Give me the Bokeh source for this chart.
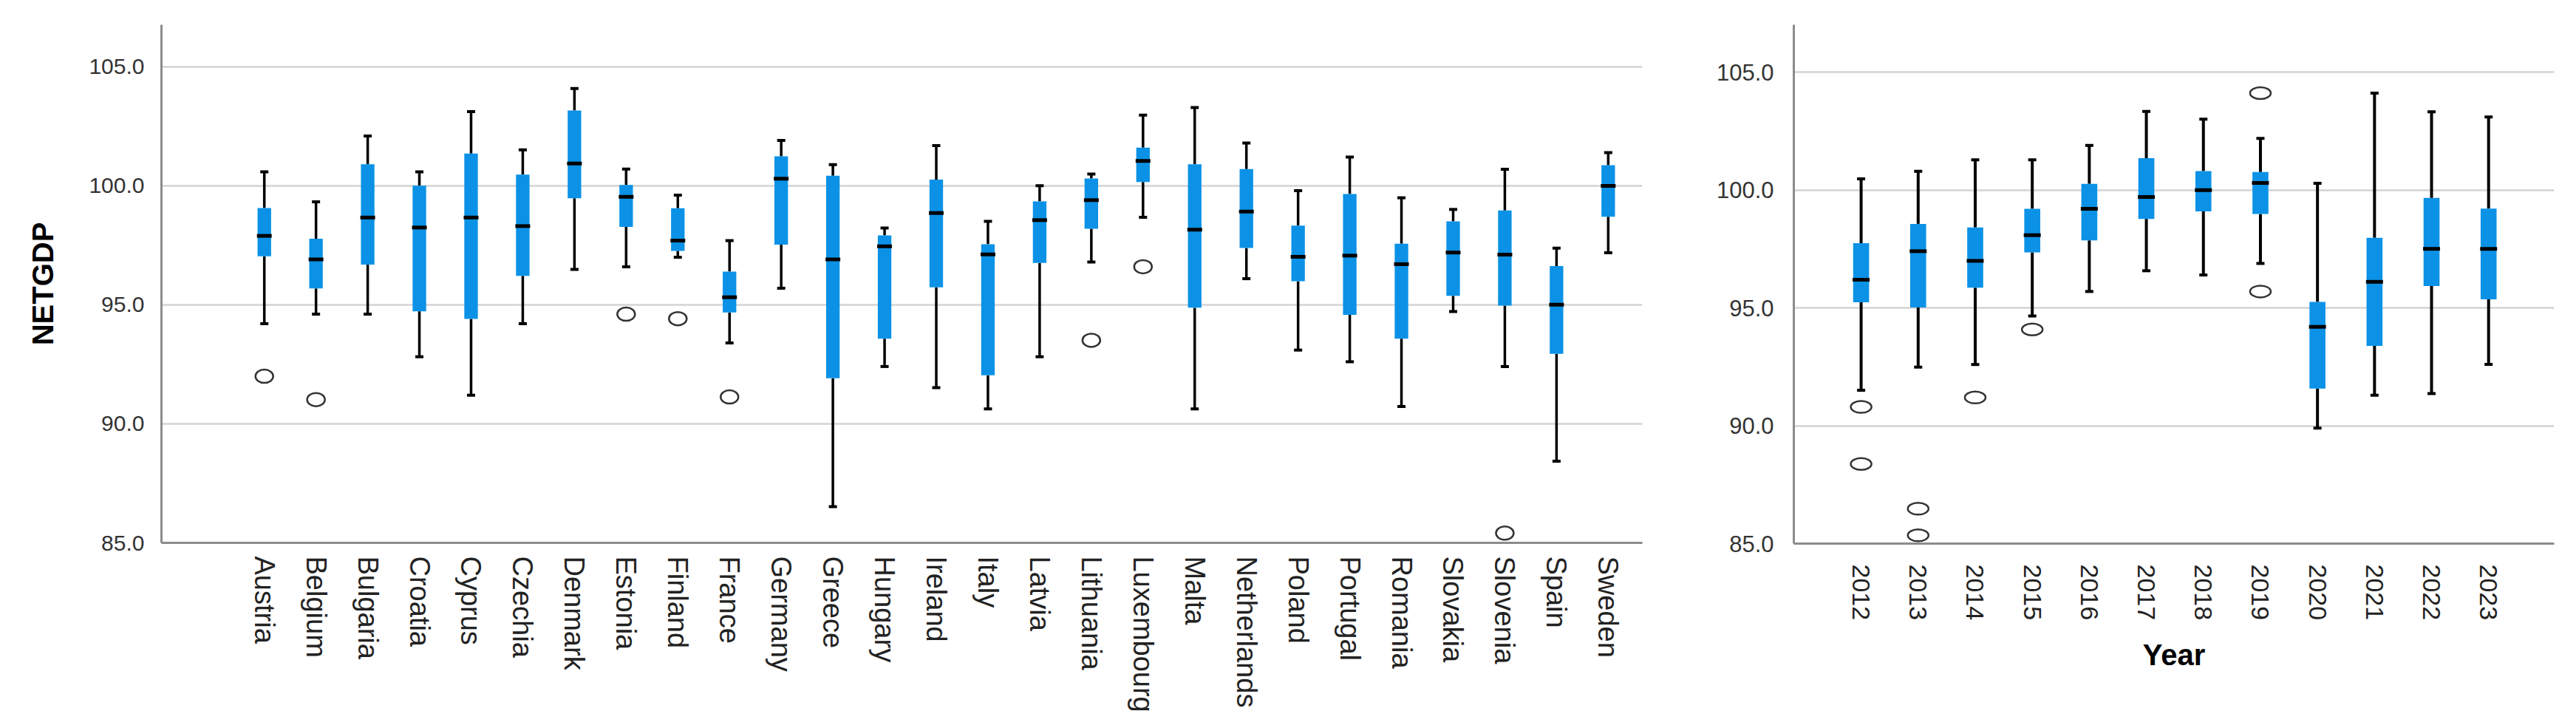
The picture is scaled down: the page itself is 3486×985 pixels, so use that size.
import math
from bokeh.plotting import figure
from bokeh.models import Range1d, FixedTicker, PrintfTickFormatter, ColumnDataSource
from bokeh.layouts import row
from bokeh.embed import file_html
from bokeh.resources import INLINE

# ---------------- data: by country ----------------
countries = ["Austria", "Belgium", "Bulgaria", "Croatia", "Cyprus", "Czechia", "Denmark",
             "Estonia", "Finland", "France", "Germany", "Greece", "Hungary", "Ireland",
             "Italy", "Latvia", "Lithuania", "Luxembourg", "Malta", "Netherlands", "Poland",
             "Portugal", "Romania", "Slovakia", "Slovenia", "Spain", "Sweden"]
c_low = [94.21, 94.61, 94.61, 92.82, 91.20, 94.21, 96.49, 96.60, 97.00, 93.40, 95.70, 86.52,
         92.41, 91.52, 90.63, 92.82, 96.80, 98.68, 90.63, 96.10, 93.10, 92.61, 90.73, 94.72,
         92.41, 88.43, 97.19]
c_q1 = [97.04, 95.69, 96.69, 94.73, 94.41, 96.22, 99.48, 98.28, 97.27, 94.68, 97.53, 91.92,
        93.58, 95.74, 92.04, 96.76, 98.20, 100.16, 94.88, 97.39, 95.99, 94.58, 93.58, 95.38,
        94.97, 92.94, 98.70]
c_med = [97.90, 96.91, 98.67, 98.25, 98.67, 98.31, 100.94, 99.54, 97.70, 95.32, 100.30, 96.91,
         97.46, 98.86, 97.12, 98.56, 99.40, 101.05, 98.16, 98.92, 97.02, 97.07, 96.71, 97.20,
         97.11, 95.01, 100.00]
c_q3 = [99.07, 97.78, 100.91, 100.01, 101.36, 100.47, 103.17, 100.04, 99.06, 96.40, 101.24,
        100.43, 97.92, 100.26, 97.55, 99.35, 100.31, 101.61, 100.91, 100.71, 98.33, 99.66,
        97.57, 98.51, 98.97, 96.63, 100.87]
c_high = [100.59, 99.33, 102.10, 100.59, 103.12, 101.51, 104.09, 100.71, 99.61, 97.70, 101.91,
          100.89, 98.23, 101.69, 98.51, 100.01, 100.50, 102.97, 103.29, 101.80, 99.80, 101.21,
          99.50, 99.01, 100.70, 97.38, 101.40]
c_out_country = ["Austria", "Belgium", "Estonia", "Finland", "France", "Lithuania",
                 "Luxembourg", "Slovenia"]
c_out_value = [92.00, 91.02, 94.61, 94.42, 91.13, 93.51, 96.60, 85.41]

# ---------------- data: by year ----------------
years = [2012, 2013, 2014, 2015, 2016, 2017, 2018, 2019, 2020, 2021, 2022, 2023]
y_low = [91.51, 92.49, 92.60, 94.66, 95.70, 96.58, 96.40, 96.89, 89.90, 91.30, 91.37, 92.61]
y_q1 = [95.24, 95.02, 95.86, 97.36, 97.87, 98.78, 99.10, 98.99, 91.58, 93.39, 95.93, 95.37]
y_med = [96.20, 97.41, 97.00, 98.09, 99.21, 99.71, 100.00, 100.31, 94.20, 96.11, 97.51, 97.51]
y_q3 = [97.75, 98.57, 98.42, 99.21, 100.27, 101.36, 100.81, 100.77, 95.26, 97.98, 99.67, 99.22]
y_high = [100.48, 100.80, 101.29, 101.29, 101.90, 103.34, 103.01, 102.20, 100.29, 104.12,
          103.33, 103.11]
y_out_year = [2012, 2012, 2013, 2013, 2014, 2015, 2019, 2019]
y_out_value = [90.80, 88.38, 86.48, 85.35, 91.20, 94.09, 104.12, 95.70]

y_ticks = [85, 90, 95, 100, 105]

BLUE = "#0B92E6"
FONT = "Liberation Sans"
GRID = "#d4d4d4"
AXIS = "#8c8c8c"


def style_common(p, tick_font_size, tick_standoff):
    p.outline_line_color = None
    p.background_fill_color = "white"
    p.border_fill_color = "white"
    p.xgrid.visible = False
    p.ygrid.ticker = FixedTicker(ticks=y_ticks)
    p.ygrid.grid_line_color = GRID
    p.ygrid.grid_line_width = 2.5
    for ax in (p.xaxis, p.yaxis):
        ax.axis_line_color = AXIS
        ax.axis_line_width = 3
        ax.major_tick_line_color = None
        ax.minor_tick_line_color = None
        ax.major_label_text_font = FONT
        ax.axis_label_text_font = FONT
    p.yaxis.ticker = FixedTicker(ticks=y_ticks)
    p.yaxis.formatter = PrintfTickFormatter(format="%.1f")
    p.yaxis.major_label_text_font_size = tick_font_size
    p.yaxis.major_label_text_color = "#333333"
    p.yaxis.major_label_standoff = tick_standoff


def draw_boxes(p, x, low, q1, med, q3, high, box_w, med_size, cap_size, wl):
    src = ColumnDataSource(dict(x=x, low=low, q1=q1, med=med, q3=q3, high=high))
    p.segment(x0="x", y0="low", x1="x", y1="q1", source=src, line_color="black", line_width=wl)
    p.segment(x0="x", y0="q3", x1="x", y1="high", source=src, line_color="black", line_width=wl)
    p.scatter(x="x", y="low", source=src, marker="dash", size=cap_size,
              line_color="black", line_width=4)
    p.scatter(x="x", y="high", source=src, marker="dash", size=cap_size,
              line_color="black", line_width=4)
    p.vbar(x="x", width=box_w, bottom="q1", top="q3", source=src,
           fill_color=BLUE, line_color=None)
    p.scatter(x="x", y="med", source=src, marker="dash", size=med_size,
              line_color="black", line_width=5)


# ---------------- left chart ----------------
cx = list(range(len(countries)))
p1 = figure(frame_width=2004, frame_height=701, min_border_left=218, min_border_right=40,
            min_border_top=33, min_border_bottom=230,
            x_range=Range1d(-1.99, 26.66), y_range=Range1d(85, 106.77),
            output_backend="svg", toolbar_location=None, tools="")
style_common(p1, "30px", 17)
p1.yaxis.axis_label = "NETGDP"
p1.yaxis.axis_label_text_font_size = "40px"
p1.yaxis.axis_label_text_font_style = "bold"
p1.yaxis.axis_label_text_color = "black"
p1.yaxis.axis_label_standoff = 37
p1.xaxis.ticker = FixedTicker(ticks=cx)
p1.xaxis.major_label_overrides = {i: c for i, c in zip(cx, countries)}
p1.xaxis.major_label_orientation = -math.pi / 2
p1.xaxis.major_label_text_font_size = "38px"
p1.xaxis.major_label_text_color = "#222222"
p1.xaxis.major_label_standoff = 12

draw_boxes(p1, cx, c_low, c_q1, c_med, c_q3, c_high, 0.262, 20, 11, 3.5)
ox = [countries.index(c) for c in c_out_country]
p1.ellipse(x=ox, y=c_out_value, width=24, height=18, width_units="screen",
           height_units="screen", fill_color=None, line_color="#333333", line_width=2.5)

# ---------------- right chart ----------------
p2 = figure(frame_width=1029, frame_height=702, min_border_left=165, min_border_right=14,
            min_border_top=33, min_border_bottom=229,
            x_range=Range1d(2010.82, 2024.15), y_range=Range1d(85, 107.02),
            output_backend="svg", toolbar_location=None, tools="")
style_common(p2, "31px", 21)
p2.xaxis.ticker = FixedTicker(ticks=years)
p2.xaxis.major_label_orientation = -math.pi / 2
p2.xaxis.major_label_text_font_size = "34px"
p2.xaxis.major_label_text_color = "#222222"
p2.xaxis.major_label_standoff = 22
p2.xaxis.axis_label = "Year"
p2.xaxis.axis_label_text_font_size = "40px"
p2.xaxis.axis_label_text_font_style = "bold"
p2.xaxis.axis_label_text_color = "black"
p2.xaxis.axis_label_standoff = 22

draw_boxes(p2, years, y_low, y_q1, y_med, y_q3, y_high, 0.28, 23, 11, 4)
p2.ellipse(x=y_out_year, y=y_out_value, width=28, height=16, width_units="screen",
           height_units="screen", fill_color=None, line_color="#333333", line_width=2.5)

layout = row(p1, p2)
open("out.html", "w").write(file_html(layout, INLINE))
